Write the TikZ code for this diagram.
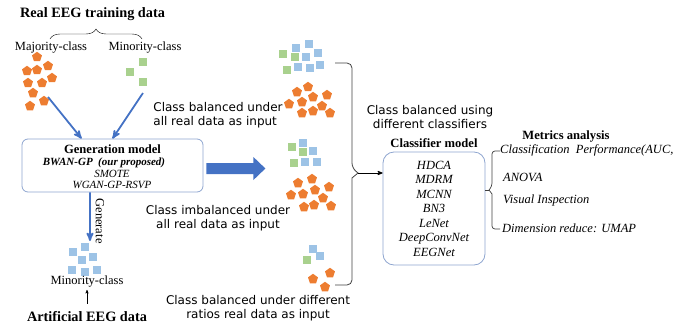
\documentclass[tikz,border=0pt]{standalone}
\usepackage{fontspec}
\setmainfont{Liberation Serif}
\newfontfamily\handfont{DejaVu Sans}
\usetikzlibrary{arrows, shapes.geometric, decorations.pathreplacing, calc}

\definecolor{pentorange}{HTML}{ED7D31}
\definecolor{sqgreen}{HTML}{A9D18E}
\definecolor{sqblue}{HTML}{9DC3E6}
\definecolor{arrowblue}{HTML}{4472C4}
\definecolor{boxblue}{HTML}{8EA5CF}

\begin{document}
\begin{tikzpicture}[x=1pt,y=-1pt,>=stealth',
 pent node/.style={regular polygon,regular polygon sides=5,fill=pentorange,inner sep=0pt,minimum size=10.5pt},
 sq node/.style={rectangle,inner sep=0pt,minimum size=8.5pt},
 hand text/.style={font=\handfont\fontsize{12}{14}\selectfont,align=center,inner sep=0pt},
 big title/.style={font=\bfseries\fontsize{14.3}{16}\selectfont,inner sep=0pt},
 head text/.style={font=\bfseries\fontsize{12.6}{14}\selectfont,inner sep=0pt},
 plain text/.style={font=\fontsize{12.5}{14}\selectfont,inner sep=0pt},
 item text/.style={font=\itshape\fontsize{12.5}{14}\selectfont,inner sep=0pt,anchor=west},
 blue arrow/.style={->,draw=arrowblue,line width=1.8pt},
 model box/.style={draw=boxblue,line width=0.8pt,rectangle}]

\useasboundingbox (0,0) rectangle (689,327);

% real data on the left
\node[big title] (realtitle) at (92.5,14) {Real EEG training data};
\node[plain text] (majlbl) at (51,48) {Majority-class};
\node[plain text] (minlbl) at (145,48) {Minority-class};
\draw[decorate,decoration={brace,amplitude=10pt,aspect=0.5}] (50,39) -- (142,39);

\foreach \x/\y [count=\i] in {37/57, 27/71, 37/70, 48/66, 28/83, 42/83, 52/78, 33/93, 44/101, 30/106}{
    \node[pent node] (maj\i) at (\x,\y) {};}
\foreach \x/\y [count=\i] in {143/62, 130/72, 143/82}{
    \node[sq node,fill=sqgreen] (min\i) at (\x,\y) {};}

% generation model
\node[model box,rounded corners=6pt,minimum width=181pt,minimum height=53pt] (gen) at (112.5,165.5) {};
\node[head text] (genttl) at (112.5,149) {Generation model};
\node[font=\bfseries\itshape\fontsize{11}{13}\selectfont,inner sep=0pt] (bwan) at (104,162.5) {BWAN-GP\ \ (our proposed)};
\node[font=\itshape\fontsize{11}{13}\selectfont,inner sep=0pt] (smote) at (112,174) {SMOTE};
\node[font=\itshape\fontsize{11}{13}\selectfont,inner sep=0pt] (wgan) at (112,185) {WGAN-GP-RSVP};

\coordinate (majout) at (48,97);
\coordinate (minout) at (143,93);
\draw[blue arrow] (majout) -- ($(gen.north west)!0.33!(gen.north east)$);
\draw[blue arrow] (minout) -- (gen.north);

% artificial minority data
\foreach \x/\y [count=\i] in {73/252, 85/247, 82/260, 93/257, 72/270, 85/272, 97/270}{
    \node[sq node,fill=sqblue] (art\i) at (\x,\y) {};}
\coordinate (artin) at (90,241);
\draw[blue arrow] ($(gen.south west)!0.376!(gen.south east)$) -- (artin);
\node[plain text,rotate=-90] (genlbl) at (100,221) {Generate};
\node[plain text] (artmin) at (87,282) {Minority-class};
\node[big title] (artlbl) at (87,317) {Artificial EEG data};
\draw[->,thin] ([yshift=8pt]artlbl.north) -- ([yshift=-2pt]artmin.south);

% block arrow to the training sets
\fill[arrowblue] ($(gen.east)+(3,-2.5)$) -- ++(47,0) -- ++(0,-6) -- ++(12,11.5)
  -- ++(-12,11.5) -- ++(0,-6) -- ++(-47,0) -- cycle;

% training sets
\foreach \x/\y/\c [count=\i] in {283/54/sqgreen, 296/48/sqblue, 309/44/sqblue, 295/57/sqgreen, 306/57/sqblue,
    318/53/sqblue, 287/70/sqgreen, 298/67/sqblue, 310/68/sqblue, 320/65/sqblue}{
    \node[sq node,fill=\c] (bsq\i) at (\x,\y) {};}
\foreach \x/\y [count=\i] in {308/87, 297/92, 313/97, 327/95, 289/104, 302/102, 322/106, 302/113, 313/111, 330/113}{
    \node[pent node] (bpt\i) at (\x,\y) {};}

\foreach \x/\y/\c [count=\i] in {303/143/sqblue, 292/147/sqgreen, 303/152/sqgreen, 313/151/sqblue,
    294/163/sqgreen, 305/162/sqblue, 317/162/sqblue}{
    \node[sq node,fill=\c] (isq\i) at (\x,\y) {};}
\foreach \x/\y [count=\i] in {312/179, 298/183, 315/190, 329/187, 291/195, 303/194, 323/198, 304/207, 314/205, 331/206}{
    \node[pent node] (ipt\i) at (\x,\y) {};}

\foreach \x/\y/\c [count=\i] in {313/249/sqblue, 320/256/sqblue, 307/260/sqgreen}{
    \node[sq node,fill=\c] (rsq\i) at (\x,\y) {};}
\foreach \x/\y [count=\i] in {313/279, 330/273, 325/287}{
    \node[pent node] (rpt\i) at (\x,\y) {};}

\node[hand text,align=left] (hw1) at (218,115) {Class balanced under\\all real data as input};
\node[hand text] (hw2) at (218,218) {Class imbalanced under\\all real data as input};
\node[hand text] (hw3) at (258,308) {Class balanced under different\\ratios real data as input};
\node[hand text] (hw4) at (430,117) {Class balanced using\\different classifiers};

% classifiers
\node[head text] (clfttl) at (434,143) {Classifier model};
\node[model box,rounded corners=11pt,minimum width=102pt,minimum height=113pt,
  font=\itshape\fontsize{12.5}{14.5}\selectfont,align=center] (clf) at (434,208.5)
  {HDCA\\MDRM\\MCNN\\BN3\\LeNet\\DeepConvNet\\EEGNet};

\coordinate (rtip) at (358,173);
\draw[black!75,line width=0.8pt] (335,63) [rounded corners=5pt] -| (352,168) [sharp corners] -- (rtip)
  -- (352,178) [rounded corners=5pt] |- (335,285);
\draw[->,line width=0.8pt] (rtip) -- (rtip -| clf.west);

% metrics
\node[head text] (metttl) at (566,136) {Metrics analysis};
\coordinate (mtip) at (489,190);
\draw[black!75,line width=0.7pt] (500,151) [rounded corners=3pt] -| (492,186) [sharp corners] -- (mtip)
  -- (492,194) [rounded corners=3pt] |- (500,229);
\draw[black!75,line width=0.7pt] (mtip -| clf.east) -- (mtip);
\node[item text] (met1) at (500,150) {Classification\ \ Performance(AUC,};
\node[item text] (met2) at (503,177) {ANOVA};
\node[item text] (met3) at (503,200) {Visual Inspection};
\node[item text] (met4) at (502,228) {Dimension reduce: UMAP};

\end{tikzpicture}
\end{document}
